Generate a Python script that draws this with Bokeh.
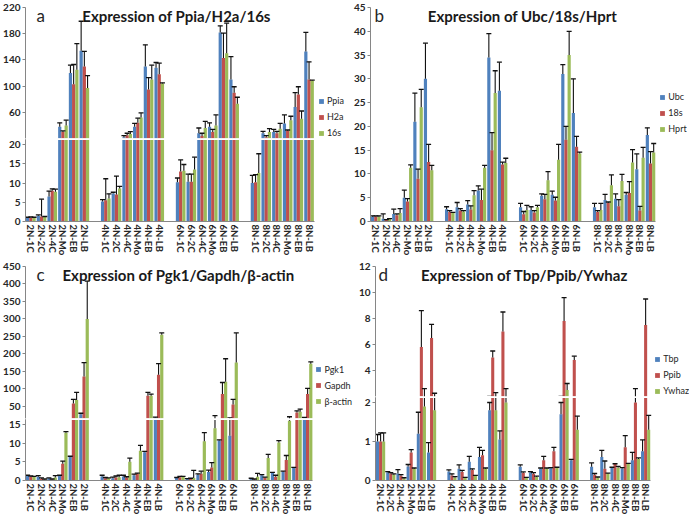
from bokeh.embed import file_html
from bokeh.layouts import column, row
from bokeh.models import (ColumnDataSource, FactorRange, FixedTicker, Label,
                          Legend, LegendItem, Span)
from bokeh.plotting import figure
from bokeh.resources import INLINE
from bokeh.transform import dodge

groups = ["2N", "4N", "6N", "8N"]
stages = ["1C", "2C", "4C", "Mo", "EB", "LB"]
labels = [f"{g}-{s}" for g in groups for s in stages]

# panel a: Ppia / H2a / 16s
ppia = [1.0, 1.5, 6.5, 38, 120, 154, 5.2, 7.3, 22, 38, 130, 128,
        10.2, 10.3, 28, 38, 182, 110, 10.0, 28, 30, 43, 68, 153]
ppia_err = [0.1, 0.2, 1.4, 6, 12, 45, 0.5, 0.3, 2.5, 5, 33, 8,
            1.1, 2.0, 8, 6, 10, 35, 2.0, 3, 4, 13, 22, 29]
h2a = [1.0, 1.3, 8.0, 30, 103, 130, 5.5, 7.0, 25, 44, 95, 118,
       13.0, 10.3, 24, 30, 143, 90, 10.2, 22, 28, 32, 87, 110]
h2a_err = [0.2, 4.5, 0.5, 1.5, 30, 23, 5.6, 4.8, 3, 7, 18, 17,
           3.0, 2.0, 4, 4, 38, 9, 2.0, 2.5, 3, 1, 12, 27]
s16 = [1.0, 1.2, 7.7, 40, 125, 97, 6.0, 8.6, 27, 52, 110, 104,
       13.2, 13.5, 36, 40, 150, 73, 12.6, 30, 35, 48, 50, 108]
s16_err = [0.1, 0.1, 0.7, 8, 40, 19, 1.2, 0.5, 3.5, 7, 22, 1,
           1.6, 3.2, 10, 16, 46, 10, 5.0, 5, 8, 6, 12, 1]

# panel b: Ubc / 18s / Hprt
ubc = [1.0, 0.6, 1.6, 5.0, 21, 30, 2.6, 3.0, 3.6, 6.5, 34.5, 27.5,
       3.0, 2.4, 5.4, 5.6, 31, 22.8, 3.0, 4.5, 4.8, 5.6, 11, 18.2]
ubc_err = [0.2, 1.0, 1.0, 1.6, 6, 7.5, 0.5, 1.0, 0.8, 1.0, 5, 6,
           0.8, 0.7, 0.4, 0.8, 2, 7.2, 0.8, 1.2, 1.0, 0.5, 3.2, 1.5]
r18s = [1.0, 0.3, 1.3, 4.2, 9, 12.5, 2.0, 2.3, 2.5, 4.5, 15, 12,
        1.5, 1.9, 4.7, 4.4, 17.2, 15.7, 2.0, 3.9, 3.2, 6.0, 2.3, 12.2]
r18s_err = [0.2, 0.1, 0.3, 0.6, 2, 3.7, 0.3, 0.4, 0.8, 2.3, 3.7, 0.5,
            0.6, 0.4, 1.0, 0.7, 2.8, 2.2, 0.3, 0.2, 1.4, 2.4, 0.9, 2.5]
hprt = [1.0, 0.5, 1.8, 11.3, 24, 10.8, 1.8, 2.1, 5.5, 11.3, 27, 12.3,
        2.4, 3.0, 8.7, 13, 35, 14.3, 2.4, 7.6, 8.5, 12.4, 13.4, 14.5]
hprt_err = [0.2, 0.1, 0.9, 0.6, 3.8, 1.0, 0.1, 0.2, 1.0, 0.5, 4.7, 1.0,
            1.0, 0.4, 1.8, 3.2, 5, 0.3, 1.4, 2.2, 1.4, 2.7, 2.2, 1.9]

# panel c: Pgk1 / Gapdh / beta-actin
pgk1 = [1.2, 1.0, 0.6, 1.2, 6.3, 27, 1.1, 0.6, 1.1, 1.4, 7.6, 18,
        0.7, 0.4, 1.5, 2.3, 10.7, 12, 0.5, 1.4, 2.0, 2.3, 3.4, 17]
pgk1_err = [0.2, 0.3, 0.1, 0.2, 0.2, 3, 0.3, 0.3, 0.3, 0.3, 0.2, 1,
            0.1, 0.1, 0.3, 0.5, 0.2, 5, 0.1, 0.2, 0.2, 0.2, 0.1, 1]
gapdh = [1.0, 0.5, 0.3, 4.5, 58, 135, 0.6, 0.8, 0.8, 1.8, 80, 140,
         0.9, 0.5, 1.8, 3.5, 85, 55, 0.3, 0.7, 1.0, 5.5, 32, 85]
gapdh_err = [0.2, 0.2, 0.1, 0.7, 12, 40, 0.2, 0.4, 0.2, 0.2, 10, 32,
             0.2, 0.1, 0.7, 1.3, 33, 15, 0.1, 0.2, 0.4, 1.2, 5, 16]
bactin = [1.0, 0.3, 0.8, 12.8, 68, 300, 0.6, 0.9, 5.0, 8.0, 80, 255,
          1.0, 0.7, 10.5, 14, 120, 175, 1.0, 6.0, 10.2, 16, 34, 172]
bactin_err = [0.1, 0.1, 0.5, 0.3, 22, 108, 0.1, 0.5, 1.0, 1.4, 5, 5,
              0.1, 2.0, 2.3, 9, 66, 85, 0.9, 1.0, 0.5, 4, 8, 5]

# panel d: Tbp / Ppib / Ywhaz
tbp = [1.0, 0.21, 0.18, 0.36, 1.2, 0.72, 0.23, 0.30, 0.48, 0.60, 1.8, 1.05,
       0.35, 0.21, 0.31, 0.32, 1.7, 0.52, 0.35, 0.60, 0.33, 0.31, 0.52, 0.75]
tbp_err = [0.18, 0.02, 0.10, 0.05, 0.55, 0.25, 0.04, 0.10, 0.14, 0.25, 0.2, 0.22,
           0.05, 0.02, 0.01, 0.01, 0.3, 0.02, 0.10, 0.17, 0.01, 0.02, 0.20, 0.29]
ppib = [1.0, 0.18, 0.12, 0.72, 5.8, 6.5, 0.13, 0.22, 0.27, 0.65, 5.0, 7.0,
        0.20, 0.17, 0.52, 0.75, 7.8, 4.8, 0.15, 0.30, 0.42, 0.85, 2.0, 7.5]
ppib_err = [0.22, 0.02, 0.03, 0.07, 2.8, 1.05, 0.04, 0.04, 0.03, 0.12, 0.5, 1.5,
            0.02, 0.03, 0.10, 0.10, 1.8, 0.3, 0.03, 0.20, 0.01, 0.30, 0.6, 2.0]
ywhaz = [1.0, 0.15, 0.05, 0.30, 1.9, 1.8, 0.08, 0.07, 0.12, 0.30, 1.8, 2.0,
         0.07, 0.09, 0.31, 0.33, 2.5, 1.3, 0.08, 0.18, 0.33, 0.42, 0.55, 1.3]
ywhaz_err = [0.22, 0.02, 0.02, 0.02, 0.7, 0.45, 0.02, 0.01, 0.01, 0.02, 0.5, 0.6,
             0.01, 0.02, 0.01, 0.01, 0.5, 0.35, 0.01, 0.01, 0.03, 0.02, 0.03, 0.37]

COLORS = ["#4F81BD", "#C0504D", "#9BBB59"]
AXIS = "#868686"
TEXT = "#262626"
FONT = "Lato"
DEAD = 6          # px kept above the break in the lower segment
OFFSETS = [-0.3, 0.0, 0.3]
BAR_W = 0.3
X_BORDER = 36
N_DATA = 27       # 24 categories + 3 blank slots between the groups


def make_factors(n_slots):
    # one blank slot between the groups, the rest after the last group
    out = []
    for gi, g in enumerate(groups):
        if gi:
            out.append(" " * gi)
        out += [f"{g}-{s}" for s in stages]
    out += [" " * k for k in range(4, 4 + n_slots - N_DATA)]
    return out


def make_source(series):
    data = {"x": labels}
    for i, (name, vals, errs) in enumerate(series):
        data[f"v{i}"] = vals
        data[f"t{i}"] = [v + e for v, e in zip(vals, errs)]
    return ColumnDataSource(data)


def base_fig(x_range, y_range, frame_w, frame_h, border_left, border_top,
             border_bottom, ticks, x_axis):
    p = figure(x_range=x_range, y_range=y_range, frame_width=frame_w,
               frame_height=frame_h, output_backend="svg",
               toolbar_location=None, tools="",
               min_border_left=border_left, min_border_right=0,
               min_border_top=border_top, min_border_bottom=border_bottom,
               x_axis_location="below" if x_axis else None)
    p.outline_line_color = None
    p.grid.visible = False
    p.background_fill_color = "white"
    p.border_fill_color = "white"

    ya = p.yaxis[0]
    ya.ticker = FixedTicker(ticks=ticks)
    ya.axis_line_color = AXIS
    ya.major_tick_line_color = AXIS
    ya.major_tick_in = 0
    ya.major_tick_out = 3
    ya.minor_tick_line_color = None
    ya.axis_label_standoff = 0
    ya.major_label_text_font = FONT
    ya.major_label_text_font_size = "10px"
    ya.major_label_text_font_style = "bold"
    ya.major_label_text_color = TEXT
    ya.major_label_standoff = 2

    if x_axis:
        xa = p.xaxis[0]
        xa.bounds = (0, N_DATA)
        xa.major_label_orientation = "vertical"
        xa.major_label_text_font = FONT
        xa.major_label_text_font_size = "9.5px"
        xa.major_label_text_font_style = "bold"
        xa.major_label_text_color = TEXT
        xa.major_label_standoff = 3
        xa.major_tick_in = 0
        xa.major_tick_out = 0
        xa.axis_label_standoff = 0
        xa.major_tick_line_color = None
        xa.minor_tick_line_color = None
        xa.axis_line_color = AXIS
    return p


def draw_bars(p, source, x_range):
    bars = []
    for i, off in enumerate(OFFSETS):
        r = p.vbar(x=dodge("x", off, range=x_range), top=f"v{i}", width=BAR_W,
                   source=source, fill_color=COLORS[i], line_color=None)
        bars.append(r)
    for i, off in enumerate(OFFSETS):
        xs = dodge("x", off, range=x_range)
        p.segment(x0=xs, y0=f"v{i}", x1=xs, y1=f"t{i}", source=source,
                  line_color="#111111", line_width=1.1)
        p.scatter(x=xs, y=f"t{i}", source=source, marker="dash", size=5,
                  line_color="#111111", line_width=1.3)
    return bars


def add_legend(p, bars, names, frame_w, n_slots, y, gap):
    items = [LegendItem(label=n, renderers=[r]) for n, r in zip(names, bars)]
    x = frame_w * N_DATA / n_slots + gap
    leg = Legend(items=items, location=(x, y), orientation="vertical",
                 background_fill_alpha=0, border_line_color=None, padding=0,
                 margin=0, spacing=5, glyph_height=6, glyph_width=6,
                 label_height=11, label_standoff=3, label_text_font=FONT,
                 label_text_font_size="9px", label_text_color=TEXT)
    p.add_layout(leg)


def add_titles(p, letter, title, y_top, letter_x, title_x):
    p.add_layout(Label(x=letter_x, y=y_top, y_offset=-8, x_units="screen",
                       text=letter, text_font=FONT, text_font_size="17px",
                       text_color=TEXT, text_baseline="middle"))
    p.add_layout(Label(x=title_x, y=y_top, y_offset=-8, x_units="screen",
                       text=title, text_font=FONT, text_font_size="15px",
                       text_font_style="bold", text_color="#1a1a1a",
                       text_align="center", text_baseline="middle"))


def broken_panel(series, letter, title, width, border_left, n_slots,
                 border_top, top_h, low_h, brk, top_end, top_ticks, low_ticks,
                 legend_y, legend_gap, letter_x, title_x):
    x_range = FactorRange(factors=make_factors(n_slots), range_padding=0)
    source = make_source(series)
    frame_w = width - border_left

    top = base_fig(x_range, (brk, top_end), frame_w, top_h, border_left,
                   border_top, 0, top_ticks, False)
    bars = draw_bars(top, source, x_range)
    add_legend(top, bars, [s[0] for s in series], frame_w, n_slots,
               legend_y, legend_gap)
    add_titles(top, letter, title, top_end, letter_x, title_x)

    low_end = brk * low_h / (low_h - DEAD)
    low = base_fig(x_range, (0, low_end), frame_w, low_h, border_left,
                   0, X_BORDER, low_ticks, True)
    draw_bars(low, source, x_range)
    low.add_layout(Span(location=low_end, dimension="width", line_color="white",
                        line_width=3))
    return column(top, low)


def single_panel(series, letter, title, width, border_left, n_slots,
                 border_top, frame_h, y_end, ticks, legend_y, legend_gap,
                 letter_x, title_x):
    x_range = FactorRange(factors=make_factors(n_slots), range_padding=0)
    source = make_source(series)
    frame_w = width - border_left
    p = base_fig(x_range, (0, y_end), frame_w, frame_h, border_left,
                 border_top, X_BORDER, ticks, True)
    bars = draw_bars(p, source, x_range)
    add_legend(p, bars, [s[0] for s in series], frame_w, n_slots,
               legend_y, legend_gap)
    add_titles(p, letter, title, y_end, letter_x, title_x)
    return p


panel_a = broken_panel(
    [("Ppia", ppia, ppia_err), ("H2a", h2a, h2a_err), ("16s", s16, s16_err)],
    "a", "Expression of Ppia/H2a/16s", 345, 24, 30, 7, 131, 83,
    20, 220, [60, 100, 140, 180, 220], [0, 5, 10, 15, 20], 0, 4, 11, 151)

panel_b = single_panel(
    [("Ubc", ubc, ubc_err), ("18s", r18s, r18s_err), ("Hprt", hprt, hprt_err)],
    "b", "Expression of Ubc/18s/Hprt", 341, 24, 30, 7, 214, 45,
    list(range(0, 46, 5)), 87, 4, 4, 152)

panel_c = broken_panel(
    [("Pgk1", pgk1, pgk1_err), ("Gapdh", gapdh, gapdh_err),
     ("β-actin", bactin, bactin_err)],
    "c", "Expression of Pgk1/Gapdh/β-actin", 352, 22, 31, 8, 152, 62,
    15, 450, list(range(50, 451, 50)), [0, 5, 10, 15], 11.5, 3, 11, 153)

panel_d = broken_panel(
    [("Tbp", tbp, tbp_err), ("Ppib", ppib, ppib_err), ("Ywhaz", ywhaz, ywhaz_err)],
    "d", "Expression of Tbp/Ppib/Ywhaz", 334, 18, 31, 8, 130, 84,
    2, 12, [4, 6, 8, 10, 12], [0, 1, 2], 0, 4, 3, 149)

layout = column(row(panel_a, panel_b), row(panel_c, panel_d))

open("out.html", "w").write(file_html(layout, INLINE))
